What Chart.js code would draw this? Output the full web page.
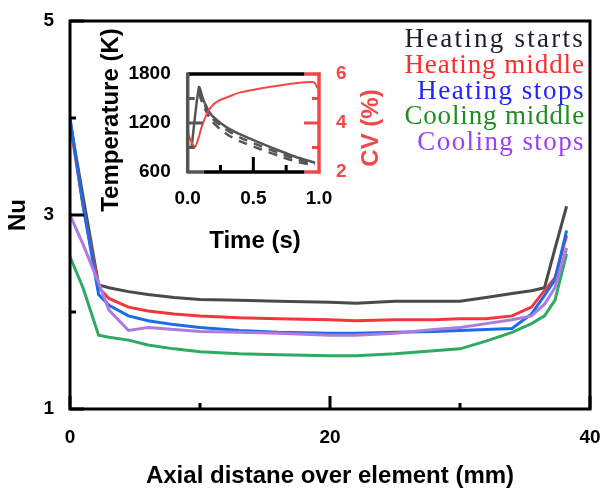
<!DOCTYPE html>
<html>
<head>
<meta charset="utf-8">
<script src="https://cdn.jsdelivr.net/npm/chart.js@4.4.1/dist/chart.umd.min.js"></script>
<style>
  html, body { margin: 0; padding: 0; background: #fff; }
  #wrap { position: relative; width: 606px; height: 491px; }
  #main { position: absolute; left: 0; top: 0; }
  #inset { position: absolute; left: 95px; top: 0; }
</style>
</head>
<body>
<div id="wrap">
  <canvas id="main" width="606" height="491"></canvas>
  <canvas id="inset" width="290" height="260"></canvas>
</div>
<script>
// --- main plot: Nu along the element ---
const axialPos = [0, 1, 2.2, 3, 4.5, 6, 8, 10, 13, 16, 20, 22, 25, 28, 30, 32, 34, 35.5, 36.5, 37.3, 38.2];
const nuHeatStart  = [3.97, 3.19, 2.28, 2.25, 2.21, 2.18, 2.15, 2.13, 2.12, 2.11, 2.10, 2.09, 2.11, 2.11, 2.11, 2.15, 2.19, 2.22, 2.25, 2.65, 3.09];
const nuHeatMiddle = [3.95, 3.10, 2.25, 2.14, 2.05, 2.01, 1.98, 1.96, 1.94, 1.93, 1.92, 1.91, 1.92, 1.92, 1.93, 1.93, 1.96, 2.05, 2.22, 2.35, 2.79];
const nuHeatStops  = [4.00, 3.10, 2.18, 2.07, 1.96, 1.91, 1.87, 1.84, 1.81, 1.79, 1.78, 1.78, 1.79, 1.80, 1.81, 1.82, 1.83, 1.98, 2.17, 2.33, 2.84];
const nuCoolMiddle = [2.57, 2.25, 1.76, 1.74, 1.71, 1.66, 1.62, 1.59, 1.57, 1.56, 1.55, 1.55, 1.57, 1.60, 1.62, 1.70, 1.79, 1.88, 1.96, 2.12, 2.60];
const nuCoolStops  = [3.00, 2.70, 2.30, 2.02, 1.81, 1.84, 1.82, 1.80, 1.79, 1.78, 1.76, 1.76, 1.78, 1.82, 1.84, 1.88, 1.92, 1.96, 2.08, 2.25, 2.66];

const seriesNames = ['Heating starts', 'Heating middle', 'Heating stops', 'Cooling middle', 'Cooling stops'];
const lineColors  = ['#4a4a4a', '#f0383c', '#1c6ce6', '#2eaa62', '#ad7ae0'];
const labelColors = ['#20202a', '#ff2a2a', '#2323ff', '#1f8c1f', '#9a3dff'];

const xTickVals = [0, 10, 20, 30, 40];
const xTickLabels = ['0', '', '20', '', '40'];
const yTickVals = [1, 2, 3, 4, 5];
const yTickLabels = ['1', '', '3', '', '5'];

// --- inset: temperature and CV over time ---
const tempTime  = [0.03, 0.086, 0.12, 0.18, 0.25, 0.31, 0.4, 0.56, 0.7, 0.82, 0.97];
const tempSim   = [910, 1640, 1480, 1300, 1200, 1135, 1060, 950, 860, 787, 714];
const tempUpper = [null, 1600, 1450, 1270, 1170, 1100, 1020, 915, 830, 760, 700];
const tempLower = [null, 1560, 1410, 1230, 1120, 1050, 975, 875, 795, 730, 680];
const cvTime = [0.0, 0.03, 0.056, 0.08, 0.107, 0.14, 0.18, 0.24, 0.31, 0.4, 0.56, 0.7, 0.82, 0.96, 0.99];
const cvVals = [3.6, 3.2, 3.03, 3.35, 3.85, 4.3, 4.67, 4.92, 5.07, 5.25, 5.42, 5.53, 5.62, 5.66, 5.42];
const timeTicks = [0, 0.5, 1];
const tempTicks = [600, 1200, 1800];
const cvTicks = [2, 4, 6];

const FONT = "Arial, 'Liberation Sans', sans-serif";
const RED = '#f04848';
const GREY = '#555555';

const pts = (xs, ys) => xs.map((v, i) => ({ x: v, y: ys[i] })).filter(p => p.y !== null);
// keep tick labels from pushing the plot area around
const noPad = s => { s.paddingLeft = s.paddingRight = s.paddingTop = s.paddingBottom = 0; };

// frame + inward ticks of the main plot, then the text legend
const mainFrame = {
  id: 'mainFrame',
  afterDatasetsDraw(chart) {
    const { ctx, chartArea: a, scales: { x, y } } = chart;
    ctx.save();
    ctx.strokeStyle = '#000';
    ctx.lineWidth = 3;
    ctx.beginPath();
    xTickVals.forEach((v, i) => {
      const px = x.getPixelForValue(v);
      ctx.moveTo(px, a.bottom);
      ctx.lineTo(px, a.bottom - (xTickLabels[i] ? 13 : 6));
    });
    yTickVals.forEach((v, i) => {
      const py = y.getPixelForValue(v);
      ctx.moveTo(a.left, py);
      ctx.lineTo(a.left + (yTickLabels[i] ? 14 : 6), py);
    });
    ctx.stroke();
    ctx.strokeRect(a.left, a.top, a.right - a.left, a.bottom - a.top);
    ctx.restore();
  },
  afterDraw(chart) {
    const ctx = chart.ctx;
    const cell = 12.9, right = 585;
    ctx.save();
    ctx.font = "27px 'Liberation Serif', 'Times New Roman', serif";
    ctx.textBaseline = 'middle';
    ctx.textAlign = 'left';
    seriesNames.forEach((name, i) => {
      ctx.letterSpacing = '0px';
      const w = ctx.measureText(name).width;
      ctx.letterSpacing = ((name.length * cell - w) / name.length) + 'px';
      ctx.fillStyle = labelColors[i];
      ctx.fillText(name, right - name.length * cell, 40 + i * 25.8);
    });
    ctx.restore();
  }
};

new Chart(document.getElementById('main'), {
  type: 'line',
  data: {
    datasets: [nuHeatStart, nuHeatMiddle, nuHeatStops, nuCoolMiddle, nuCoolStops].map((vals, i) => ({
      label: seriesNames[i],
      data: pts(axialPos, vals),
      borderColor: lineColors[i],
      borderWidth: 3,
      pointRadius: 0,
      tension: 0,
      order: [4, 3, 1, 2, 0][i]
    }))
  },
  options: {
    responsive: false,
    animation: false,
    devicePixelRatio: 1,
    layout: { padding: { top: 21, right: 16, left: 0, bottom: 0 } },
    plugins: { legend: { display: false }, tooltip: { enabled: false } },
    scales: {
      x: {
        type: 'linear', min: 0, max: 40,
        afterBuildTicks: s => { s.ticks = xTickVals.map(v => ({ value: v })); },
        afterFit: s => { s.height = 82; noPad(s); },
        grid: { display: false, drawTicks: false },
        border: { display: false },
        ticks: {
          autoSkip: false, maxRotation: 0, padding: 17, color: '#000',
          font: { family: FONT, size: 19, weight: 'bold' },
          callback: (v) => xTickLabels[xTickVals.indexOf(v)]
        },
        title: {
          display: true, text: 'Axial distane over element (mm)', color: '#000',
          font: { family: FONT, size: 24, weight: 'bold' }, padding: { top: 5, bottom: 0 }
        }
      },
      y: {
        type: 'linear', min: 1, max: 5,
        afterBuildTicks: s => { s.ticks = yTickVals.map(v => ({ value: v })); },
        afterFit: s => { s.width = 70; noPad(s); },
        grid: { display: false, drawTicks: false },
        border: { display: false },
        ticks: {
          autoSkip: false, padding: 16, color: '#000',
          font: { family: FONT, size: 19, weight: 'bold' },
          callback: (v) => yTickLabels[yTickVals.indexOf(v)]
        },
        title: {
          display: true, text: 'Nu', color: '#000',
          font: { family: FONT, size: 24, weight: 'bold' }, padding: { top: 4, bottom: 0 }
        }
      }
    }
  },
  plugins: [mainFrame]
});

// inset frame: grey left axis, red right axis, black top/bottom
const insetFrame = {
  id: 'insetFrame',
  afterDatasetsDraw(chart) {
    const { ctx, chartArea: a, scales: { x, y, y1 } } = chart;
    const seg = (c, x0, y0, x2, y2) => {
      ctx.strokeStyle = c; ctx.beginPath(); ctx.moveTo(x0, y0); ctx.lineTo(x2, y2); ctx.stroke();
    };
    ctx.save();
    ctx.lineWidth = 3.5;
    const xr = x.getPixelForValue(0.89), xg = x.getPixelForValue(0.12);
    seg('#000', a.left, a.top, xr, a.top);
    seg('#000', xg, a.bottom, xr, a.bottom);
    seg(GREY, a.left, a.bottom, xg, a.bottom);
    seg(RED, xr, a.top, a.right + 1.5, a.top);
    seg(RED, xr, a.bottom, a.right + 1.5, a.bottom);
    seg(GREY, a.left, a.top - 1.5, a.left, a.bottom + 1.5);
    seg(RED, a.right, a.top - 1.5, a.right, a.bottom + 1.5);
    ctx.lineWidth = 3;
    [0.25, 0.5, 0.75].forEach(v => {
      const px = x.getPixelForValue(v);
      seg('#000', px, a.bottom, px, a.bottom - (v === 0.5 ? 15 : 7));
    });
    [900, 1200, 1500].forEach(v => {
      const py = y.getPixelForValue(v);
      seg(GREY, a.left, py, a.left + (v === 1200 ? 15 : 7), py);
    });
    [3, 4, 5].forEach(v => {
      const py = y1.getPixelForValue(v);
      seg(RED, a.right, py, a.right - (v === 4 ? 15 : 7), py);
    });
    // axis titles
    ctx.font = 'bold 24px ' + FONT;
    ctx.textAlign = 'center';
    ctx.textBaseline = 'middle';
    ctx.fillStyle = '#000';
    ctx.fillText('Time (s)', 160, 241);
    ctx.save();
    ctx.translate(16, 120);
    ctx.rotate(-Math.PI / 2);
    ctx.fillText('Temperature (K)', 0, 0);
    ctx.restore();
    ctx.save();
    ctx.translate(276, 128);
    ctx.rotate(-Math.PI / 2);
    ctx.fillStyle = RED;
    ctx.fillText('CV (%)', 0, 0);
    ctx.restore();
    ctx.restore();
  }
};

new Chart(document.getElementById('inset'), {
  type: 'line',
  data: {
    datasets: [
      { data: pts(cvTime, cvVals), yAxisID: 'y1', borderColor: RED, borderWidth: 2, pointRadius: 0, tension: 0.3 },
      { data: pts(tempTime, tempSim), yAxisID: 'y', borderColor: GREY, borderWidth: 2.5, pointRadius: 0, tension: 0.2 },
      { data: pts(tempTime, tempUpper), yAxisID: 'y', borderColor: GREY, borderWidth: 2.5, borderDash: [9, 7], pointRadius: 0, tension: 0.2 },
      { data: pts(tempTime, tempLower), yAxisID: 'y', borderColor: GREY, borderWidth: 2.5, borderDash: [9, 7], pointRadius: 0, tension: 0.2 }
    ]
  },
  options: {
    responsive: false,
    animation: false,
    devicePixelRatio: 1,
    layout: { padding: { top: 74, right: 0, left: 0, bottom: 0 } },
    plugins: { legend: { display: false }, tooltip: { enabled: false } },
    scales: {
      x: {
        type: 'linear', min: 0, max: 1,
        afterBuildTicks: s => { s.ticks = timeTicks.map(v => ({ value: v })); },
        afterFit: s => { s.height = 88; noPad(s); },
        grid: { display: false, drawTicks: false },
        border: { display: false },
        ticks: {
          autoSkip: false, maxRotation: 0, padding: 15, color: '#000',
          font: { family: FONT, size: 19, weight: 'bold' },
          callback: v => v.toFixed(1)
        }
      },
      y: {
        type: 'linear', position: 'left', min: 600, max: 1800,
        afterBuildTicks: s => { s.ticks = tempTicks.map(v => ({ value: v })); },
        afterFit: s => { s.width = 92.7; noPad(s); },
        grid: { display: false, drawTicks: false },
        border: { display: false },
        ticks: {
          autoSkip: false, padding: 17, color: '#000',
          font: { family: FONT, size: 19, weight: 'bold' },
          callback: v => String(v)
        }
      },
      y1: {
        type: 'linear', position: 'right', min: 2, max: 6,
        afterBuildTicks: s => { s.ticks = cvTicks.map(v => ({ value: v })); },
        afterFit: s => { s.width = 66; noPad(s); },
        grid: { display: false, drawTicks: false },
        border: { display: false },
        ticks: {
          autoSkip: false, padding: 17, color: RED,
          font: { family: FONT, size: 19, weight: 'bold' },
          callback: v => String(v)
        }
      }
    }
  },
  plugins: [insetFrame]
});
</script>
</body>
</html>
